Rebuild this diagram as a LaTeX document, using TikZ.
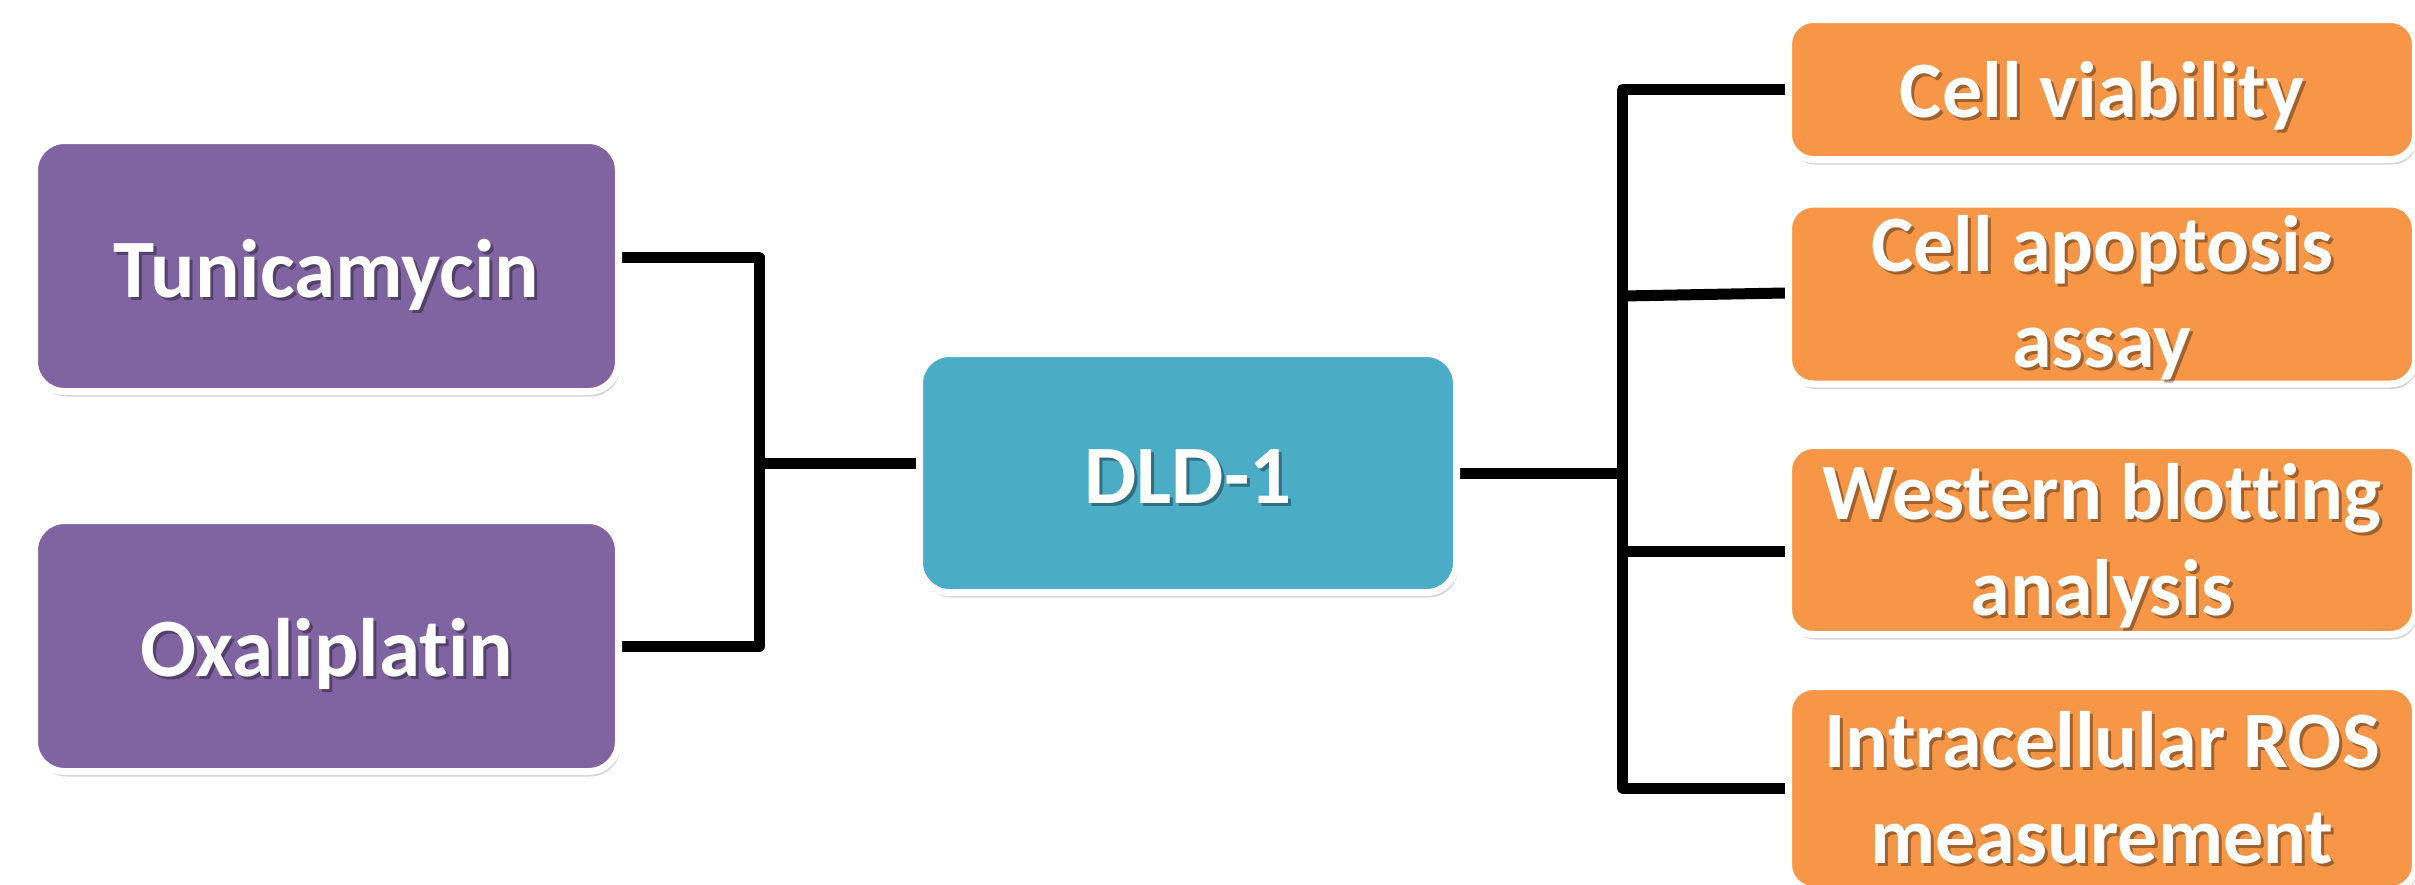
\documentclass[tikz,border=0pt]{standalone}
\usepackage{fontspec}
\setmainfont{Carlito}[Ligatures=NoCommon]
\usetikzlibrary{shadows,backgrounds}
\definecolor{purp}{HTML}{8064A2}
\definecolor{tealb}{HTML}{4BACC6}
\definecolor{orng}{HTML}{F79646}
\tikzset{
  boxbase/.style={rectangle, draw=white, line width=7pt, inner sep=0pt,
    drop shadow={shadow xshift=2pt, shadow yshift=-5pt, opacity=0.28, fill=black!60}},
  drugbox/.style={boxbase, fill=purp, rounded corners=30pt, minimum width=584pt, minimum height=251pt},
  cellbox/.style={boxbase, fill=tealb, rounded corners=30pt, minimum width=537pt, minimum height=239pt},
  assaybox/.style={boxbase, fill=orng, rounded corners=25pt, minimum width=627pt},
  conn/.style={line width=11pt, line join=round, black},
  lblL/.style={font=\bfseries\fontsize{83}{100}\selectfont, text=white, inner sep=0pt, anchor=base},
  lblR/.style={font=\bfseries\fontsize{80}{96}\selectfont, text=white, inner sep=0pt, anchor=base},
  shad/.style={text=black, opacity=0.35, xshift=3pt, yshift=-3pt}
}
\begin{document}
\begin{tikzpicture}[x=1pt,y=-1pt]
\useasboundingbox (0,0) rectangle (2415,884);
\clip (0,0) rectangle (2415,884);
% boxes
\node[drugbox] (tun) at (326.5,266) {};
\node[drugbox] (oxa) at (326.5,646) {};
\node[cellbox] (dld) at (1188,473) {};
\node[assaybox, minimum height=140pt] (cv)  at (2102,89.5) {};
\node[assaybox, minimum height=180pt] (apo) at (2102,294) {};
\node[assaybox, minimum height=189pt] (wb)  at (2102,540) {};
\node[assaybox, minimum height=203pt] (ros) at (2102,788) {};
% junctions
\coordinate (jl) at (759,463.5);
\coordinate (jr) at (1622.5,473);
% connectors
\begin{pgfonlayer}{background}
\draw[conn] ([yshift=9pt]tun.east) -| (jl) |- (oxa.east);
\draw[conn] (jl) -- (jl -| dld.west);
\draw[conn] (dld.east) -- (jr);
\draw[conn] (cv.west) -| (jr) |- (ros.west);
\draw[conn] ([yshift=1pt]apo.west) -- ([yshift=-2pt]apo.west -| jr);
\draw[conn] ([yshift=-11pt]wb.west) -- ([yshift=-11pt]wb.west -| jr);
\end{pgfonlayer}
% texts
\node[lblL, shad] at (326.5,297) {Tunicamycin};
\node[lblL] (tunt) at (326.5,297) {Tunicamycin};
\node[lblL, shad] at (326.5,676) {Oxaliplatin};
\node[lblL] (oxat) at (326.5,676) {Oxaliplatin};
\node[lblL, shad] at (1188,503) {DLD-1};
\node[lblL] (dldt) at (1188,503) {DLD-1};
\node[lblR, shad] at (2102,117) {Cell viability};
\node[lblR] (cvt) at (2102,117) {Cell viability};
\node[lblR, shad] at (2102,367) {\begin{tabular}[b]{@{}c@{}}Cell apoptosis\\assay\end{tabular}};
\node[lblR] (apot) at (2102,367) {\begin{tabular}[b]{@{}c@{}}Cell apoptosis\\assay\end{tabular}};
\node[lblR, shad] at (2102,615) {\begin{tabular}[b]{@{}c@{}}Western blotting\\analysis\end{tabular}};
\node[lblR] (wbt) at (2102,615) {\begin{tabular}[b]{@{}c@{}}Western blotting\\analysis\end{tabular}};
\node[lblR, shad] at (2102,863) {\begin{tabular}[b]{@{}c@{}}Intracellular ROS\\measurement\end{tabular}};
\node[lblR] (rost) at (2102,863) {\begin{tabular}[b]{@{}c@{}}Intracellular ROS\\measurement\end{tabular}};
\end{tikzpicture}
\end{document}
